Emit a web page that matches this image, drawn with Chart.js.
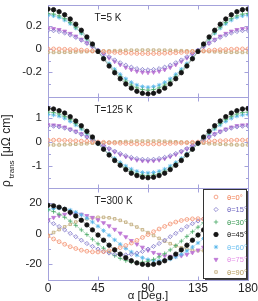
<!DOCTYPE html>
<html>
<head>
<meta charset="utf-8">
<script src="https://cdn.jsdelivr.net/npm/chart.js@4.4.0/dist/chart.umd.min.js"></script>
<style>
  html, body { margin: 0; padding: 0; background: #fff; }
  #wrap { position: relative; width: 258px; height: 301px; }
</style>
</head>
<body>
<div id="wrap"><canvas id="c" width="258" height="301"></canvas></div>
<script>
// rotation angle alpha (deg), one point every 5 deg
const ALPHA = [0,5,10,15,20,25,30,35,40,45,50,55,60,65,70,75,80,85,90,95,100,105,110,115,120,125,130,135,140,145,150,155,160,165,170,175,180];
const THETA_LABELS = ['θ=0°','θ=15°','θ=30°','θ=45°','θ=60°','θ=75°','θ=90°'];
const PANEL_LABELS = ['T=5 K','T=125 K','T=300 K'];

// T = 5 K
const RHO_5K_T0  = [0,0,-0.001,-0.003,-0.005,-0.007,-0.01,-0.013,-0.017,-0.02,-0.023,-0.027,-0.03,-0.033,-0.035,-0.037,-0.039,-0.04,-0.04,-0.04,-0.039,-0.037,-0.035,-0.033,-0.03,-0.027,-0.023,-0.02,-0.017,-0.013,-0.01,-0.007,-0.005,-0.003,-0.001,0,0];
const RHO_5K_T15 = [0.16,0.157,0.15,0.137,0.12,0.099,0.075,0.048,0.02,-0.01,-0.04,-0.068,-0.095,-0.119,-0.14,-0.157,-0.17,-0.177,-0.18,-0.177,-0.17,-0.157,-0.14,-0.119,-0.095,-0.068,-0.04,-0.01,0.02,0.048,0.075,0.099,0.12,0.137,0.15,0.157,0.16];
const RHO_5K_T30 = [0.305,0.3,0.285,0.261,0.228,0.187,0.14,0.088,0.032,-0.025,-0.082,-0.138,-0.19,-0.237,-0.278,-0.311,-0.335,-0.35,-0.355,-0.35,-0.335,-0.311,-0.278,-0.237,-0.19,-0.138,-0.082,-0.025,0.032,0.088,0.14,0.187,0.228,0.261,0.285,0.3,0.305];
const RHO_5K_T45 = [0.343,0.338,0.321,0.294,0.258,0.213,0.161,0.103,0.042,-0.022,-0.085,-0.147,-0.205,-0.257,-0.302,-0.338,-0.365,-0.382,-0.387,-0.382,-0.365,-0.338,-0.302,-0.257,-0.205,-0.147,-0.085,-0.022,0.042,0.103,0.161,0.213,0.258,0.294,0.321,0.338,0.343];
const RHO_5K_T60 = [0.29,0.285,0.271,0.248,0.217,0.179,0.135,0.086,0.034,-0.02,-0.074,-0.126,-0.175,-0.219,-0.257,-0.288,-0.311,-0.325,-0.33,-0.325,-0.311,-0.288,-0.257,-0.219,-0.175,-0.126,-0.074,-0.02,0.034,0.086,0.135,0.179,0.217,0.248,0.271,0.285,0.29];
const RHO_5K_T75 = [0.177,0.174,0.166,0.152,0.133,0.109,0.082,0.052,0.02,-0.013,-0.046,-0.078,-0.108,-0.135,-0.159,-0.178,-0.192,-0.2,-0.203,-0.2,-0.192,-0.178,-0.159,-0.135,-0.108,-0.078,-0.046,-0.013,0.02,0.052,0.082,0.109,0.133,0.152,0.166,0.174,0.177];
const RHO_5K_T90 = [-0.03,-0.03,-0.029,-0.029,-0.028,-0.026,-0.025,-0.023,-0.022,-0.02,-0.018,-0.017,-0.015,-0.014,-0.012,-0.011,-0.011,-0.01,-0.01,-0.01,-0.011,-0.011,-0.012,-0.014,-0.015,-0.017,-0.018,-0.02,-0.022,-0.023,-0.025,-0.026,-0.028,-0.029,-0.029,-0.03,-0.03];

// T = 125 K
const RHO_125K_T0  = [0.08,0.08,0.08,0.07,0.06,0.05,0.04,0.03,0.01,0,-0.01,-0.03,-0.04,-0.05,-0.06,-0.07,-0.08,-0.08,-0.08,-0.08,-0.08,-0.07,-0.06,-0.05,-0.04,-0.03,-0.01,0,0.01,0.03,0.04,0.05,0.06,0.07,0.08,0.08,0.08];
const RHO_125K_T15 = [0.67,0.66,0.63,0.58,0.51,0.42,0.32,0.21,0.09,-0.03,-0.15,-0.27,-0.38,-0.48,-0.57,-0.64,-0.69,-0.72,-0.73,-0.72,-0.69,-0.64,-0.57,-0.48,-0.38,-0.27,-0.15,-0.03,0.09,0.21,0.32,0.42,0.51,0.58,0.63,0.66,0.67];
const RHO_125K_T30 = [1.25,1.23,1.17,1.07,0.94,0.77,0.59,0.38,0.16,-0.08,-0.31,-0.53,-0.74,-0.92,-1.09,-1.22,-1.32,-1.38,-1.4,-1.38,-1.32,-1.22,-1.09,-0.92,-0.74,-0.53,-0.31,-0.08,0.16,0.38,0.59,0.77,0.94,1.07,1.17,1.23,1.25];
const RHO_125K_T45 = [1.4,1.38,1.31,1.21,1.06,0.88,0.68,0.45,0.21,-0.05,-0.3,-0.54,-0.77,-0.97,-1.15,-1.3,-1.4,-1.47,-1.49,-1.47,-1.4,-1.3,-1.15,-0.97,-0.77,-0.54,-0.3,-0.05,0.21,0.45,0.68,0.88,1.06,1.21,1.31,1.38,1.4];
const RHO_125K_T60 = [1.15,1.13,1.08,0.99,0.86,0.71,0.54,0.35,0.14,-0.07,-0.28,-0.49,-0.68,-0.85,-1,-1.13,-1.22,-1.27,-1.29,-1.27,-1.22,-1.13,-1,-0.85,-0.68,-0.49,-0.28,-0.07,0.14,0.35,0.54,0.71,0.86,0.99,1.08,1.13,1.15];
const RHO_125K_T75 = [0.72,0.71,0.68,0.62,0.54,0.45,0.34,0.22,0.1,-0.04,-0.17,-0.29,-0.41,-0.52,-0.61,-0.69,-0.75,-0.78,-0.79,-0.78,-0.75,-0.69,-0.61,-0.52,-0.41,-0.29,-0.17,-0.04,0.1,0.22,0.34,0.45,0.54,0.62,0.68,0.71,0.72];
const RHO_125K_T90 = [-0.12,-0.12,-0.12,-0.11,-0.1,-0.09,-0.08,-0.07,-0.05,-0.04,-0.03,-0.01,0,0.01,0.02,0.03,0.04,0.04,0.04,0.04,0.04,0.03,0.02,0.01,0,-0.01,-0.03,-0.04,-0.05,-0.07,-0.08,-0.09,-0.1,-0.11,-0.12,-0.12,-0.12];

// T = 300 K
const RHO_300K_T0  = [-1.7,-3.6,-5.4,-7.1,-8.7,-9.9,-11,-11.7,-12.1,-12.2,-12,-11.4,-10.5,-9.3,-7.9,-6.3,-4.5,-2.6,-0.7,1.2,3,4.7,6.3,7.6,8.6,9.3,9.7,9.8,9.5,9,8.1,6.9,5.5,3.9,2.1,0.2,-1.7];
const RHO_300K_T15 = [8.3,6.5,4.6,2.4,0.1,-2.1,-4.4,-6.6,-8.5,-10.3,-11.8,-12.9,-13.7,-14.1,-14.1,-13.7,-12.9,-11.8,-10.3,-8.5,-6.6,-4.4,-2.1,0.1,2.4,4.6,6.5,8.3,9.8,10.9,11.7,12.1,12.1,11.7,10.9,9.8,8.3];
const RHO_300K_T30 = [15.7,14.5,12.8,10.7,8.2,5.4,2.4,-0.7,-3.8,-6.8,-9.7,-12.3,-14.6,-16.4,-17.9,-18.8,-19.2,-19,-18.3,-17.1,-15.4,-13.3,-10.8,-8,-5,-1.9,1.2,4.2,7.1,9.7,12,13.8,15.3,16.2,16.6,16.4,15.7];
const RHO_300K_T45 = [18.6,18.3,17.4,16,14,11.6,8.8,5.7,2.4,-1,-4.4,-7.7,-10.8,-13.6,-16,-18,-19.4,-20.3,-20.6,-20.3,-19.4,-18,-16,-13.6,-10.8,-7.7,-4.4,-1,2.4,5.7,8.8,11.6,14,16,17.4,18.3,18.6];
const RHO_300K_T60 = [15.8,16.5,16.7,16.3,15.5,14.1,12.3,10.1,7.6,4.8,1.9,-1.2,-4.2,-7.1,-9.8,-12.2,-14.3,-16,-17.2,-17.9,-18.1,-17.7,-16.9,-15.5,-13.7,-11.5,-9,-6.2,-3.3,-0.2,2.8,5.7,8.4,10.8,12.9,14.6,15.8];
const RHO_300K_T75 = [9,10.6,11.8,12.7,13.1,13.1,12.7,11.8,10.6,9,7.1,5,2.7,0.2,-2.2,-4.7,-7,-9.1,-11,-12.6,-13.8,-14.7,-15.1,-15.1,-14.7,-13.8,-12.6,-11,-9.1,-7,-4.7,-2.2,0.2,2.7,5,7.1,9];
const RHO_300K_T90 = [-1.2,0.7,2.6,4.4,6.1,7.6,8.8,9.7,10.4,10.7,10.7,10.4,9.7,8.7,7.5,6,4.3,2.5,0.6,-1.3,-3.2,-5,-6.7,-8.2,-9.4,-10.3,-11,-11.3,-11.3,-11,-10.3,-9.3,-8.1,-6.6,-4.9,-3.1,-1.2];

// axis ticks
const X_TICKS = [0,45,90,135,180];
const Y5_MAJOR = [-0.2,0,0.2],   Y5_LABELS = ['-0.2','0','0.2'],   Y5_MINOR = [-0.3,-0.1,0.1,0.3];
const Y125_MAJOR = [-1,0,1],     Y125_LABELS = ['-1','0','1'],     Y125_MINOR = [-1.5,-0.5,0.5,1.5];
const Y300_MAJOR = [-20,0,20],   Y300_LABELS = ['-20','0','20'],   Y300_MINOR = [-10,10];

const PANEL_IDS = ['y5','y125','y300'];   // top to bottom
const PANEL_DATA = [
  [RHO_5K_T0, RHO_5K_T15, RHO_5K_T30, RHO_5K_T45, RHO_5K_T60, RHO_5K_T75, RHO_5K_T90],
  [RHO_125K_T0, RHO_125K_T15, RHO_125K_T30, RHO_125K_T45, RHO_125K_T60, RHO_125K_T75, RHO_125K_T90],
  [RHO_300K_T0, RHO_300K_T15, RHO_300K_T30, RHO_300K_T45, RHO_300K_T60, RHO_300K_T75, RHO_300K_T90]
];

// styles per theta
const FONT = '"Liberation Sans", Arial, Helvetica, sans-serif';
const FRAME = '#a4a2db';
const MARK_COLORS = ['#f49070','#7f76c8','#48a864','#151515','#55b5ea','#bf78d6','#bda674'];
const LINE_COLORS = ['#f9c4ae','#c4bee8','#a0d8b4','#909090','#b0dcf4','#e6c2ef','#e0d4b6'];
const TEXT_COLORS = ['#f07c50','#6f66c0','#3a9a55','#111111','#6cbff0','#e38fe6','#b39a5c'];
const POINT_STYLES = ['circle','rectRot','cross','circle','star','triangle','rect'];
const FILLED = [false,false,false,true,false,true,false];
const ROTATIONS = [0,0,0,0,0,180,0];
const RADII = [1.9,2.1,2.2,2.2,2.2,2.3,1.8];

const datasets = [];
PANEL_IDS.forEach((axisId, p) => {
  PANEL_DATA[p].forEach((vals, i) => {
    datasets.push({
      label: THETA_LABELS[i],
      data: ALPHA.map((a, k) => ({ x: a, y: vals[k] })),
      yAxisID: axisId,
      showLine: true,
      borderColor: LINE_COLORS[i],
      borderWidth: 0.8,
      tension: 0.35,
      pointStyle: POINT_STYLES[i],
      pointRadius: RADII[i],
      pointRotation: ROTATIONS[i],
      pointBorderColor: MARK_COLORS[i],
      pointBackgroundColor: FILLED[i] ? MARK_COLORS[i] : 'rgba(0,0,0,0)',
      pointBorderWidth: 0.8,
      order: i === 3 ? 0 : 1
    });
  });
});

function yAxis(min, max, major, labels, minor, weight) {
  return {
    type: 'linear', position: 'left', stack: 'rho', stackWeight: 1, weight,
    min, max,
    afterBuildTicks: s => { s.ticks = major.concat(minor).sort((a, b) => a - b).map(v => ({ value: v })); },
    afterFit: s => { s.width = 48; s.paddingTop = 0; s.paddingBottom = 0; },
    grid: { display: false, drawTicks: false },
    border: { display: false },
    ticks: {
      autoSkip: false, padding: 6, color: '#222',
      font: { family: FONT, size: 11.5 },
      callback: v => { const i = major.indexOf(v); return i < 0 ? '' : labels[i]; }
    }
  };
}

// panel frames with inward ticks on all sides
const frames = {
  id: 'frames',
  beforeDatasetsDraw(chart) {
    const { ctx, chartArea: a, scales } = chart;
    const xs = scales.x;
    const L = Math.round(a.left) + 0.5, R = Math.round(a.right) + 0.5;
    ctx.save();
    ctx.strokeStyle = FRAME;
    ctx.lineWidth = 1;
    PANEL_IDS.forEach(id => {
      const s = scales[id];
      const T = Math.round(s.top) + 0.5, B = Math.round(s.bottom) + 0.5;
      ctx.strokeRect(L, T, R - L, B - T);
      ctx.beginPath();
      s.ticks.forEach(t => {
        const y = Math.round(s.getPixelForValue(t.value)) + 0.5;
        const len = t.label ? 4 : 2.5;
        ctx.moveTo(L, y); ctx.lineTo(L + len, y);
        ctx.moveTo(R, y); ctx.lineTo(R - len, y);
      });
      xs.ticks.forEach(t => {
        const x = Math.round(xs.getPixelForValue(t.value)) + 0.5;
        ctx.moveTo(x, T); ctx.lineTo(x, T + 4);
        ctx.moveTo(x, B); ctx.lineTo(x, B - 4);
      });
      ctx.stroke();
    });
    ctx.restore();
  }
};

// temperature labels, legend box and y title
const annotations = {
  id: 'annotations',
  afterDatasetsDraw(chart) {
    const { ctx, chartArea: a, scales } = chart;
    ctx.save();
    ctx.fillStyle = '#222';
    ctx.font = '10px ' + FONT;
    ctx.textBaseline = 'alphabetic';
    PANEL_IDS.forEach((id, p) => {
      ctx.fillText(PANEL_LABELS[p], a.left + 46.5, scales[id].top + 16);
    });

    // legend
    const s = scales.y300;
    const left = Math.round(a.right) - 45, top = Math.round(s.top) + 1, w = 43, h = 89;
    ctx.fillStyle = '#fff';
    ctx.fillRect(left, top, w + 2, h + 2);
    ctx.fillStyle = '#444';
    ctx.fillRect(left + w, top + 2, 2, h);
    ctx.fillRect(left + 2, top + h, w, 2);
    ctx.strokeStyle = '#333';
    ctx.lineWidth = 1;
    ctx.strokeRect(left + 0.5, top + 0.5, w, h);
    ctx.font = '7.5px ' + FONT;
    ctx.textBaseline = 'middle';
    THETA_LABELS.forEach((lab, i) => {
      const y = top + 8 + i * 12.5;
      const mx = left + 13;
      ctx.strokeStyle = MARK_COLORS[i];
      ctx.fillStyle = FILLED[i] ? MARK_COLORS[i] : 'rgba(0,0,0,0)';
      ctx.lineWidth = 0.8;
      if (Chart.helpers && Chart.helpers.drawPoint) {
        Chart.helpers.drawPoint(ctx, { pointStyle: POINT_STYLES[i], radius: RADII[i], rotation: ROTATIONS[i], borderWidth: 0.8 }, mx, y);
      }
      ctx.fillStyle = TEXT_COLORS[i];
      ctx.fillText(lab, left + 24, y + 0.5);
    });

    // y axis title: rho_trans [uOhm cm]
    ctx.translate(10, 187);
    ctx.rotate(-Math.PI / 2);
    ctx.fillStyle = '#222';
    ctx.textBaseline = 'alphabetic';
    ctx.font = '12px ' + FONT;
    ctx.fillText('ρ', 0, 0);
    const w1 = ctx.measureText('ρ').width;
    ctx.font = '8px ' + FONT;
    ctx.fillText('trans', w1 + 2, 4);
    const w2 = ctx.measureText('trans').width;
    ctx.font = '12px ' + FONT;
    ctx.fillText('[μΩ cm]', w1 + w2 + 6, 0);
    ctx.restore();
  }
};

new Chart(document.getElementById('c'), {
  type: 'line',
  data: { datasets },
  options: {
    responsive: false,
    animation: false,
    devicePixelRatio: 1,
    layout: { padding: { left: 0, right: 10, top: 0, bottom: 0 } },
    plugins: { legend: { display: false }, tooltip: { enabled: false } },
    scales: {
      x: {
        type: 'linear', min: 0, max: 180,
        afterBuildTicks: s => { s.ticks = X_TICKS.map(v => ({ value: v })); },
        afterFit: s => { s.height = 21; s.paddingLeft = 0; s.paddingRight = 0; },
        grid: { display: false, drawTicks: false },
        border: { display: false },
        ticks: { autoSkip: false, maxRotation: 0, padding: 1, color: '#222', font: { family: FONT, size: 12 } },
        title: { display: true, text: 'α [Deg.]', color: '#222', padding: { top: 0, bottom: 0 },
                 font: { family: FONT, size: 11.5, lineHeight: 0.9 } }
      },
      y300: yAxis(-30.7, 29.9, Y300_MAJOR, Y300_LABELS, Y300_MINOR, 1),
      y125: yAxis(-1.93, 1.9, Y125_MAJOR, Y125_LABELS, Y125_MINOR, 2),
      y5: yAxis(-0.41, 0.38, Y5_MAJOR, Y5_LABELS, Y5_MINOR, 3)
    }
  },
  plugins: [frames, annotations]
});
</script>
</body>
</html>
